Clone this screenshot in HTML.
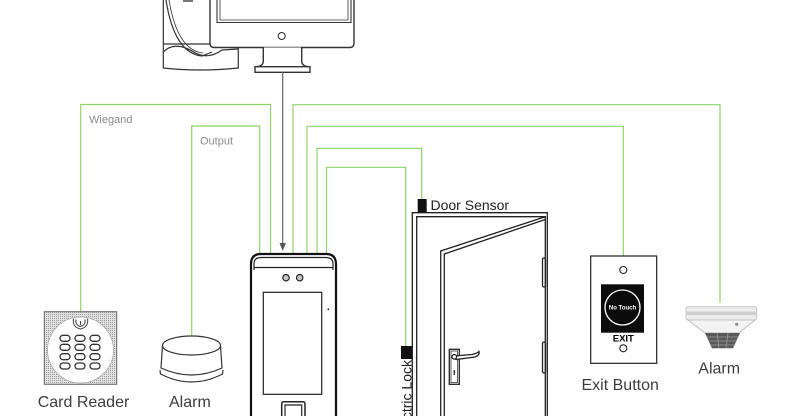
<!DOCTYPE html>
<html><head><meta charset="utf-8"><style>
html,body{margin:0;padding:0;background:#fff;width:785px;height:416px;overflow:hidden;}
svg{display:block;overflow:hidden;}
text{font-family:"Liberation Sans",sans-serif;}
</style></head><body>
<svg width="785" height="416" viewBox="0 0 785 416" xmlns="http://www.w3.org/2000/svg">
<defs>
<pattern id="ht" width="2" height="2" patternUnits="userSpaceOnUse">
<rect width="2" height="2" fill="#e2e2e2"/><rect width="1" height="1" fill="#9a9a9a"/>
</pattern>
<clipPath id="cl"><rect x="0" y="0" width="785" height="416"/></clipPath>
</defs>
<g clip-path="url(#cl)">
<rect width="785" height="416" fill="#fff"/>

<!-- green wiring -->
<g fill="none" stroke="#8fd26c" stroke-width="1.2">
<polyline points="80.7,311 80.7,104.5 270.5,104.5 270.5,254"/>
<polyline points="191.7,336 191.7,126 259.7,126 259.7,254"/>
<polyline points="293,254 293,104.7 720,104.7 720,303"/>
<polyline points="307,254 307,126.3 623.3,126.3 623.3,256"/>
<polyline points="317,254 317,148.3 421.7,148.3 421.7,199"/>
<polyline points="326.5,254 326.5,167.3 405.7,167.3 405.7,346"/>
</g>
<text x="89" y="123" font-size="11" fill="#8a8a8a">Wiegand</text>
<text x="200" y="144.5" font-size="11" fill="#8a8a8a">Output</text>

<!-- computer tower -->
<g fill="#fff" stroke="#333" stroke-width="1.2">
<path d="M163.3,0 L163.3,68 Q200,72 238.3,68 L238.3,44 L163.3,44"/>
<path d="M163.3,52 C170,45 180,44 192,51 C201,57 211,58 222,50 L238.3,49" fill="none"/>
<path d="M166,0 C171,32 182,54 202,56 L212,52" fill="none"/>
<path d="M169,0 C174,30 184,51 203,53" fill="none" stroke-width="0.8"/>
<rect x="183" y="0" width="10" height="2" fill="#777" stroke="none"/>
</g>
<!-- monitor -->
<g fill="#fff" stroke="#333" stroke-width="1.4">
<path d="M210,0 L210,43 Q210,47.5 214,47.5 L350,47.5 Q354,47.5 354,43 L354,0"/>
<path d="M217,0 L217,22.5 L351,22.5 L351,0" fill="none" stroke-width="1.1"/>
<path d="M220,0 L220,20 L348,20 L348,0" fill="none" stroke-width="0.8"/>
<circle cx="281.7" cy="36" r="3.5" fill="#fff" stroke-width="1.1"/>
<path d="M263.3,47.5 L263.3,61 Q263.3,66.7 255,66.7 L310,66.7 Q301.7,66.7 301.7,61 L301.7,47.5"/>
<rect x="255" y="66.7" width="55" height="5.6"/>
</g>
<!-- gray arrow -->
<line x1="282.7" y1="72" x2="282.7" y2="244" stroke="#666" stroke-width="1.2"/>
<path d="M279.5,243 L285.9,243 L282.7,251 Z" fill="#555"/>

<!-- card reader -->
<rect x="44.3" y="311.7" width="72.4" height="72.6" fill="url(#ht)" stroke="#666" stroke-width="1"/>
<circle cx="80.5" cy="350" r="33" fill="#fff" stroke="#aaa" stroke-width="0.8"/>
<g fill="none" stroke="#444" stroke-width="1">
<path d="M76,319.5 Q75,325 80.5,326.5 Q86,325 85,319.5"/>
<path d="M73.5,318.5 Q72,327 80.5,329 Q89,327 87.5,318.5"/>
<path d="M80.5,321 L80.5,325"/>
</g>
<g fill="#fff" stroke="#333" stroke-width="1.3">
<rect x="60" y="335.3" width="10" height="6" rx="3"/><rect x="75" y="335.3" width="10" height="6" rx="3"/><rect x="90" y="335.3" width="10" height="6" rx="3"/>
<rect x="60" y="344.3" width="10" height="6" rx="3"/><rect x="75" y="344.3" width="10" height="6" rx="3"/><rect x="90" y="344.3" width="10" height="6" rx="3"/>
<rect x="60" y="353.7" width="10" height="6" rx="3"/><rect x="75" y="353.7" width="10" height="6" rx="3"/><rect x="90" y="353.7" width="10" height="6" rx="3"/>
<rect x="60" y="363" width="10" height="6" rx="3"/><rect x="75" y="363" width="10" height="6" rx="3"/><rect x="90" y="363" width="10" height="6" rx="3"/>
</g>
<text x="37.7" y="407" font-size="16" fill="#3d3d3d">Card Reader</text>

<!-- left alarm -->
<g fill="#fff" stroke="#333" stroke-width="1.2">
<path d="M160,370 L160.5,374 Q191.5,390 222.5,374 L223,370"/>
<path d="M162.5,345.5 L161,368 Q191.5,382 222,368 L220.5,345.5"/>
<ellipse cx="191.5" cy="345.5" rx="29" ry="9.5"/>
</g>
<text x="169" y="407" font-size="16" fill="#3d3d3d">Alarm</text>

<!-- device -->
<g fill="#fff" stroke="#111" stroke-width="2.2">
<path d="M251,416 L251,264 Q251,254 261,254 L326,254 Q336,254 336,264 L336,416"/>
</g>
<g fill="none" stroke="#222" stroke-width="1.2">
<path d="M254,270 L254,264 Q254,257.5 261,257.5 L326,257.5 Q333,257.5 333,264 L333,270"/>
<line x1="254" y1="267.5" x2="333" y2="267.5"/>
<circle cx="286" cy="277.7" r="3.2" fill="#c8c8c8"/>
<circle cx="299.7" cy="277.7" r="3.2" fill="#c8c8c8"/>
<rect x="263.3" y="292.3" width="58.4" height="102"/>
<path d="M281.7,416 L281.7,404 Q281.7,401.7 284,401.7 L302.7,401.7 Q305,401.7 305,404 L305,416" stroke-width="1.5"/>
<path d="M285,416 L285,405 L301.7,405 L301.7,416"/>
</g>
<circle cx="328.3" cy="309.3" r="0.9" fill="#222"/>

<!-- door -->
<g fill="none" stroke="#222" stroke-width="1.3">
<path d="M412.3,416 L412.3,212.7 L547.3,212.7 L547.3,416"/>
<path d="M416.7,416 L416.7,216.7 L545.3,216.7 L545.3,416"/>
<path d="M440.7,416 L440.7,251 L545.3,216.7"/>
<path d="M444.3,416 L444.3,254 L545.3,219.5"/>
<rect x="542.5" y="258" width="3" height="29" rx="1.5"/>
<rect x="542.5" y="342" width="3" height="31" rx="1.5"/>
<rect x="449.3" y="349.3" width="10" height="35"/>
<rect x="451" y="351" width="6.6" height="31.6" stroke-width="0.7"/>
<path d="M454,356 L472,354.5 Q478,353 479,351.5 Q480,355 475,357 L456,359.5 Z" fill="#fff"/>
<circle cx="454.3" cy="356.8" r="2.3" fill="#fff"/>
<path d="M453.5,372 L455,372 M454.3,370 L454.3,375" stroke-width="1.2"/>
</g>
<rect x="417.7" y="199" width="9" height="13.5" fill="#111"/>
<text x="430.5" y="210" font-size="14" fill="#222">Door Sensor</text>
<rect x="401" y="346" width="11.3" height="13" fill="#111"/>
<text transform="translate(411.5,360) rotate(-90)" text-anchor="end" font-size="14" fill="#222">Electric Lock</text>

<!-- exit button -->
<rect x="590.7" y="256" width="66" height="107.3" fill="#fff" stroke="#222" stroke-width="1.2"/>
<circle cx="623.3" cy="270" r="3.5" fill="#fff" stroke="#222" stroke-width="1.1"/>
<circle cx="623.3" cy="348.3" r="3.5" fill="#fff" stroke="#222" stroke-width="1.1"/>
<rect x="601" y="284.3" width="43" height="48.4" fill="#0b0b0b"/>
<circle cx="622.5" cy="307.5" r="17.5" fill="none" stroke="#fff" stroke-width="1.3"/>
<text x="622.5" y="309.5" font-size="6" font-weight="bold" fill="#fff" text-anchor="middle">No Touch</text>
<text x="623.3" y="341.5" font-size="9.5" font-weight="bold" fill="#000" text-anchor="middle">EXIT</text>
<text x="581.5" y="390" font-size="16" fill="#3d3d3d">Exit Button</text>

<!-- right alarm -->
<path d="M688,320 L705,333 L739,333 L755,320 Z" fill="#f3f3f3" stroke="#bdbdbd" stroke-width="1"/>
<path d="M705,333 L712,348.3 L733,348.3 L740,333 Z" fill="#5a5a5a"/>
<g stroke="#9a9a9a" stroke-width="0.8">
<line x1="706.5" y1="337" x2="738.5" y2="337"/><line x1="708.3" y1="341" x2="736.5" y2="341"/><line x1="710" y1="345" x2="735" y2="345"/>
<line x1="717" y1="333" x2="719" y2="348"/><line x1="728" y1="333" x2="726" y2="348"/>
</g>
<rect x="686" y="306.7" width="70.7" height="13.3" rx="2" fill="#ececec" stroke="#c4c4c4" stroke-width="1"/>
<rect x="687" y="311.5" width="68.7" height="3.5" fill="#cfcfcf"/>
<circle cx="736.7" cy="324.3" r="1.6" fill="#888"/>
<text x="698.3" y="373.3" font-size="16" fill="#3d3d3d">Alarm</text>
</g>
</svg>
</body></html>
